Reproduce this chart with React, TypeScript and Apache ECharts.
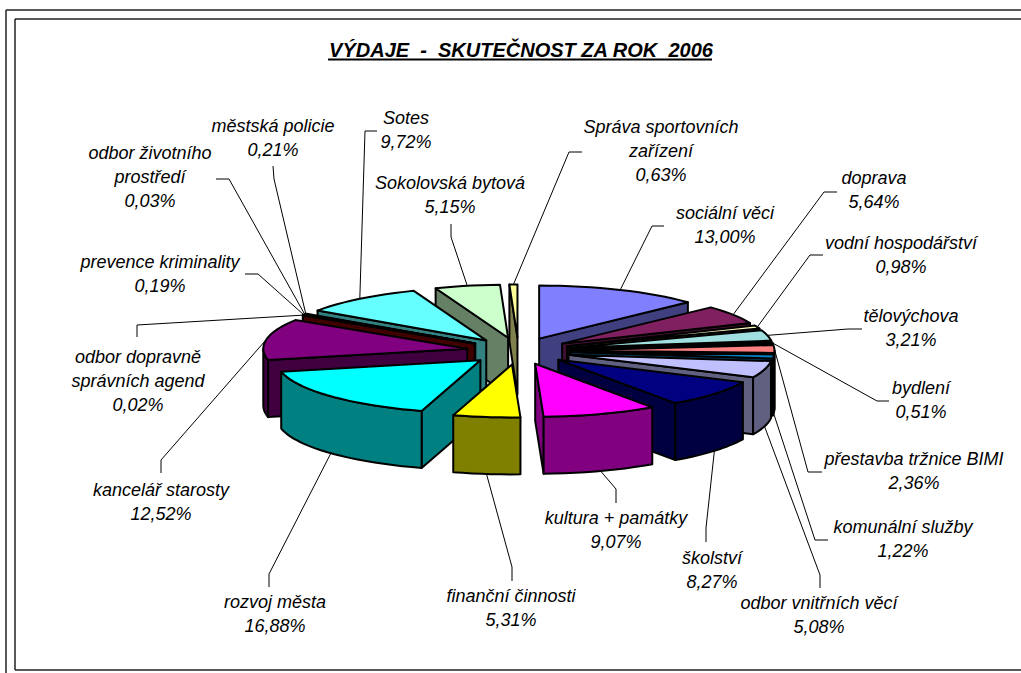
import React, { useEffect, useRef } from "react";
import * as echarts from "echarts";

// ---- data (clockwise from 12 o'clock) ----
const categories = [
  "sociální věci", "doprava", "vodní hospodářství", "tělovýchova", "bydlení",
  "přestavba tržnice BIMI", "komunální služby", "odbor vnitřních věcí", "školství",
  "kultura + památky", "finanční činnosti", "rozvoj města", "kancelář starosty",
  "odbor dopravně správních agend", "prevence kriminality", "odbor životního prostředí",
  "městská policie", "Sotes", "Sokolovská bytová", "Správa sportovních zařízení",
];
const shares = [
  13.0, 5.64, 0.98, 3.21, 0.51, 2.36, 1.22, 5.08, 8.27, 9.07, 5.31, 16.88, 12.52,
  0.02, 0.19, 0.03, 0.21, 9.72, 5.15, 0.63,
];
const titleText = "VÝDAJE  -  SKUTEČNOST ZA ROK  2006";

// ---- styles ----
const topColors = [
  "#8080FF", "#802060", "#FFFFC0", "#A0E0E0", "#660066", "#FF8080", "#0080C0", "#C0C0FF",
  "#000080", "#FF00FF", "#FFFF00", "#00FFFF", "#800080", "#800000", "#008080", "#0000FF",
  "#00C0FF", "#66FFFF", "#CCFFCC", "#FFFF99",
];
const wallColors = [
  "#404080", "#401030", "#808060", "#507070", "#330033", "#804040", "#004060", "#606080",
  "#000040", "#800080", "#808000", "#008080", "#400040", "#400000", "#004040", "#000080",
  "#006080", "#338080", "#668066", "#80804C",
];

// ---- pie geometry ----
const CX = 518.5, CY = 351, RX = 204, RY = 53, EXPLODE = 0.255, DEPTH = 57;
const FONT = "Liberation Sans, Arial, sans-serif";

// ---- label layout: centre x, first line y, and the two elbow points of the leader ----
const labelLines: string[][] = categories.map((c) => [c]);
labelLines[13] = ["odbor dopravně", "správních agend"];
labelLines[15] = ["odbor životního", "prostředí"];
labelLines[19] = ["Správa sportovních", "zařízení"];

const labelPos: [number, number][] = [
  [725, 213], [874, 178], [901, 243], [911, 316], [921, 388], [914, 459], [903, 527],
  [819, 603], [712, 558], [616, 518], [511, 596], [275, 602], [161, 490], [138, 357],
  [160, 262], [150, 153], [273, 126], [406, 118], [450, 183], [661, 127],
];
const leaderElbows: [number, number][][] = [
  [[664, 226], [652, 226]], [[837, 192], [824, 192]], [[823, 255], [810, 255]],
  [[862, 329], [848, 329]], [[889, 401], [877, 401]], [[822, 472], [808, 472]],
  [[828, 540], [815, 540]], [[820, 588], [820, 575]], [[706, 542], [706, 528]],
  [[616, 503], [616, 489]], [[512, 581], [512, 567]], [[269, 587], [269, 574]],
  [[161, 473], [161, 460]], [[137, 337], [137, 325]], [[245, 274], [258, 274]],
  [[216, 179], [229, 179]], [[273, 166], [274, 179]], [[377, 131], [365, 131]],
  [[451, 224], [451, 237]], [[582, 152], [569, 152]],
];

const rad = (d: number) => (d * Math.PI) / 180;

// cumulated angles come from the shares
const total = shares.reduce((a, b) => a + b, 0);
const wedges = (() => {
  let acc = 0;
  return shares.map((v, i) => {
    const start = (acc / total) * 360;
    acc += v;
    const end = (acc / total) * 360;
    const mid = (start + end) / 2;
    const ax = CX + EXPLODE * RX * Math.sin(rad(mid));
    const ay = CY - EXPLODE * RY * Math.cos(rad(mid));
    return { i, start, end, mid, ax, ay };
  });
})();
// painter's order: back to front
const paintOrder = [...wedges].sort((a, b) => Math.cos(rad(b.mid)) - Math.cos(rad(a.mid)));

const rim = (w: { ax: number; ay: number }, deg: number, dy = 0): [number, number] => [
  w.ax + RX * Math.sin(rad(deg)),
  w.ay - RY * Math.cos(rad(deg)) + dy,
];

const arc = (w: any, a: number, b: number, dy = 0): [number, number][] => {
  const n = Math.max(1, Math.ceil((b - a) / 3));
  const pts: [number, number][] = [];
  for (let k = 0; k <= n; k++) pts.push(rim(w, a + ((b - a) * k) / n, dy));
  return pts;
};

const face = (points: number[][], fill: string) => ({
  type: "polygon",
  shape: { points },
  style: { fill, stroke: "#000", lineWidth: 2, lineJoin: "round" },
});

const renderWedge = (_: any, api: any) => {
  const idx = api.value(0);
  const w = wedges[idx];
  const wall = wallColors[idx];
  const children: any[] = [];
  const radial = (deg: number) => {
    const c = rim(w, deg);
    return face([[w.ax, w.ay], c, [c[0], c[1] + DEPTH], [w.ax, w.ay + DEPTH]], wall);
  };
  if (Math.sin(rad(w.start)) < 0) children.push(radial(w.start));
  if (Math.sin(rad(w.end)) > 0) children.push(radial(w.end));
  const from = Math.max(w.start, 90);
  const to = Math.min(w.end, 270);
  if (to > from) {
    children.push(face([...arc(w, from, to), ...arc(w, from, to, DEPTH).reverse()], wall));
  }
  children.push(face([[w.ax, w.ay], ...arc(w, w.start, w.end)], topColors[idx]));
  return { type: "group", silent: true, children };
};

const renderLabel = (_: any, api: any) => {
  const idx = api.value(0);
  const value = api.value(1);
  const w = wedges[idx];
  const front = Math.cos(rad(w.mid)) < 0;
  const end = rim(w, w.mid, front ? DEPTH : 0);
  const [x, y] = labelPos[idx];
  const lines = [...labelLines[idx], value.toFixed(2).replace(".", ",") + "%"];
  const children: any[] = [
    {
      type: "polyline",
      shape: { points: [...leaderElbows[idx], end] },
      style: { stroke: "#000", lineWidth: 1, fill: "none" },
    },
  ];
  lines.forEach((t, k) => {
    children.push({
      type: "text",
      style: {
        text: t,
        x,
        y: y + k * 24,
        fill: "#000",
        align: "center",
        verticalAlign: "middle",
        font: `italic 18px ${FONT}`,
      },
    });
  });
  return { type: "group", silent: true, children };
};

const frameLine = (x1: number, y1: number, x2: number, y2: number) => ({
  type: "line",
  silent: true,
  shape: { x1, y1, x2, y2 },
  style: { stroke: "#222", lineWidth: 1.5 },
});

export default function App() {
  const ref = useRef<HTMLDivElement>(null);
  useEffect(() => {
    const chart = echarts.init(ref.current!, null, { renderer: "svg" });
    chart.setOption({
      animation: false,
      backgroundColor: "#fff",
      title: {
        text: titleText,
        left: 516,
        top: 35,
        textAlign: "center",
        textStyle: {
          fontFamily: FONT,
          fontSize: 20,
          fontStyle: "italic",
          fontWeight: "bold",
          color: "#000",
        },
      },
      graphic: [
        frameLine(6, 10, 1021, 10),
        frameLine(6, 10, 6, 673),
        frameLine(15, 19, 1021, 19),
        frameLine(15, 19, 15, 670),
        frameLine(15, 670, 1021, 670),
        {
          type: "line",
          silent: true,
          shape: { x1: 328, y1: 59.5, x2: 712, y2: 59.5 },
          style: { stroke: "#000", lineWidth: 2 },
        },
      ],
      series: [
        {
          type: "custom",
          coordinateSystem: "none",
          renderItem: renderWedge,
          data: paintOrder.map((w) => [w.i, shares[w.i]]),
          silent: true,
          z: 2,
        },
        {
          type: "custom",
          coordinateSystem: "none",
          renderItem: renderLabel,
          data: shares.map((v, i) => [i, v]),
          silent: true,
          z: 1,
        },
      ],
    });
    return () => chart.dispose();
  }, []);
  return (
    <div
      ref={ref}
      style={{ position: "absolute", left: 0, top: 0, width: 1021, height: 673 }}
    />
  );
}
